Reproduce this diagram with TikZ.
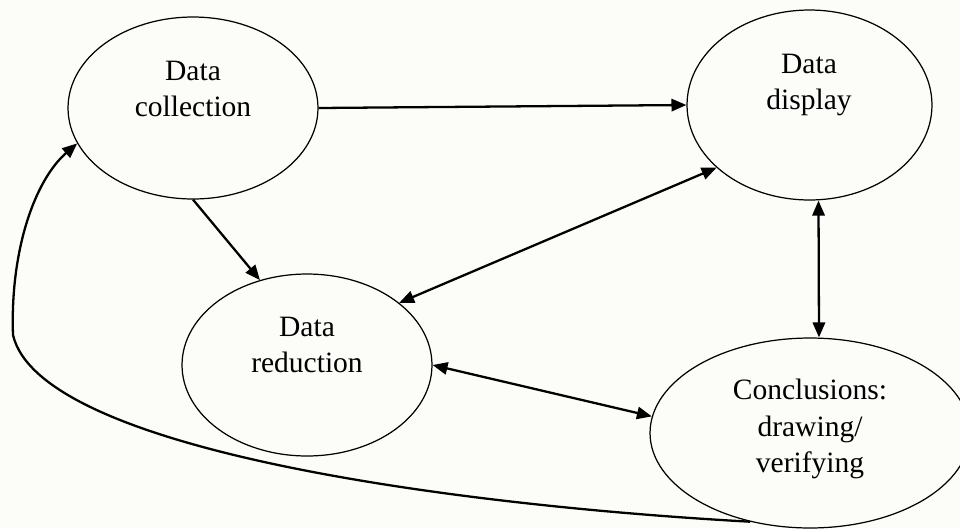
\documentclass[tikz,border=0pt]{standalone}
\usepackage{fontspec}
\setmainfont{Liberation Serif}
\usepackage{xcolor}
\usetikzlibrary{shapes.geometric,arrows.meta}
\definecolor{paper}{RGB}{252,253,248}

\begin{document}
\begin{tikzpicture}[x=0.02cm,y=-0.02cm,
  stage/.style={ellipse,draw=black,line width=0.7pt,inner sep=0pt},
  lbl/.style={align=center,font=\fontsize{16.8}{20.6}\selectfont},
  flow/.style={line width=1.3pt,-{Triangle[length=8.5pt,width=7pt]}},
  both/.style={line width=1.3pt,{Triangle[length=8.5pt,width=7pt]}-{Triangle[length=8.5pt,width=7pt]}}]
%\draw[help lines] (0,0) grid (960,528);
\useasboundingbox (0,0) rectangle (960,528);
\clip (0,0) rectangle (960,528);
\fill[paper] (0,0) rectangle (960,528);

\node[stage,minimum width=5cm,minimum height=3.64cm] (col) at (193,108) {};
\node[stage,minimum width=4.9cm,minimum height=3.8cm] (dis) at (809.5,105) {};
\node[stage,minimum width=5cm,minimum height=3.64cm] (red) at (307,365) {};
\node[stage,minimum width=6.4cm,minimum height=3.8cm] (con) at (810,433) {};

\node[lbl] (col-t) at (193,89) {Data\\collection};
\node[lbl] (dis-t) at (809,85) {Data\\display};
\node[lbl] (red-t) at (307,345) {Data\\reduction};
\node[lbl] (con-t) at (810,429) {Conclusions:\\drawing/\\verifying};

\draw[flow] (col.east) -- (dis.west);
\draw[flow] (col.south) -- (red.119);
\draw[both] (red.34) -- (dis.214);
\draw[both] ([xshift=0.18cm]dis.south) -- ([xshift=0.18cm]con.north);
\draw[both] (red.east) -- (con.174);
\draw[flow] (con.236) .. controls (450,505) and (40,450) .. (13,335)
  .. controls (10,250) and (35,180) .. (col.197);
\end{tikzpicture}
\end{document}
